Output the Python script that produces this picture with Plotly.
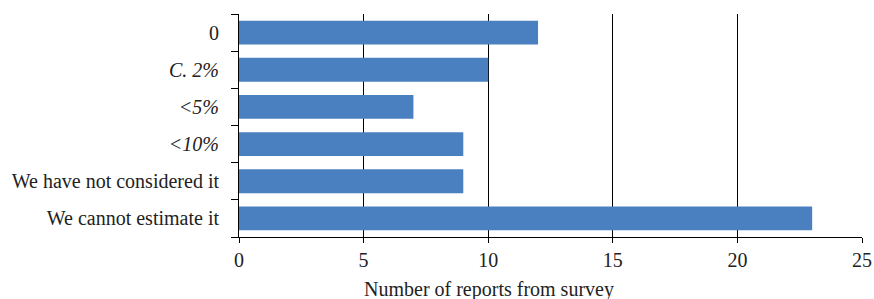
import plotly.graph_objects as go

categories = ["0", "C. 2%", "<5%", "<10%", "We have not considered it", "We cannot estimate it"]
tick_labels = ["0", "<i>C</i><i>. 2%</i>", "<i>&lt;5%</i>", "<i>&lt;10%</i>",
               "We have not considered it", "We cannot estimate it"]
values = [12, 10, 7, 9, 9, 23]
x_ticks = [0, 5, 10, 15, 20, 25]
x_title = "Number of reports from survey"

fig = go.Figure(go.Bar(
    x=values, y=categories, orientation="h",
    marker=dict(color="#4a80c0", line=dict(width=0)),
    width=0.64,
))

font = dict(family="Liberation Serif, Times New Roman, serif", size=20, color="#222222")

fig.update_layout(
    width=874, height=299,
    margin=dict(l=239, r=12, t=14, b=62, autoexpand=False),
    paper_bgcolor="white", plot_bgcolor="white",
    font=font, showlegend=False, bargap=0.36,
    annotations=[dict(
        text=x_title, xref="paper", yref="paper", x=0.401, y=-0.235,
        xanchor="center", yanchor="middle", showarrow=False, font=font,
    )],
)
fig.update_xaxes(
    range=[0, 25], tickvals=x_ticks, ticktext=[str(v) for v in x_ticks],
    showgrid=True, gridcolor="black", gridwidth=1, zeroline=False,
    showline=True, linecolor="black", linewidth=1,
    ticks="outside", ticklen=5, tickcolor="black", automargin=False,
)
fig.update_yaxes(
    type="category", categoryorder="array", categoryarray=categories,
    tickvals=categories, ticktext=tick_labels,
    autorange="reversed", showgrid=False, zeroline=False,
    showline=True, linecolor="black", linewidth=1, automargin=False,
    ticks="outside", ticklen=7, tickcolor="black", tickson="boundaries",
    ticklabelstandoff=15,
)

fig.write_html(
    "out.html",
    config={"displayModeBar": False},
    post_script="document.body.style.margin='0';document.body.style.overflow='hidden';",
)
